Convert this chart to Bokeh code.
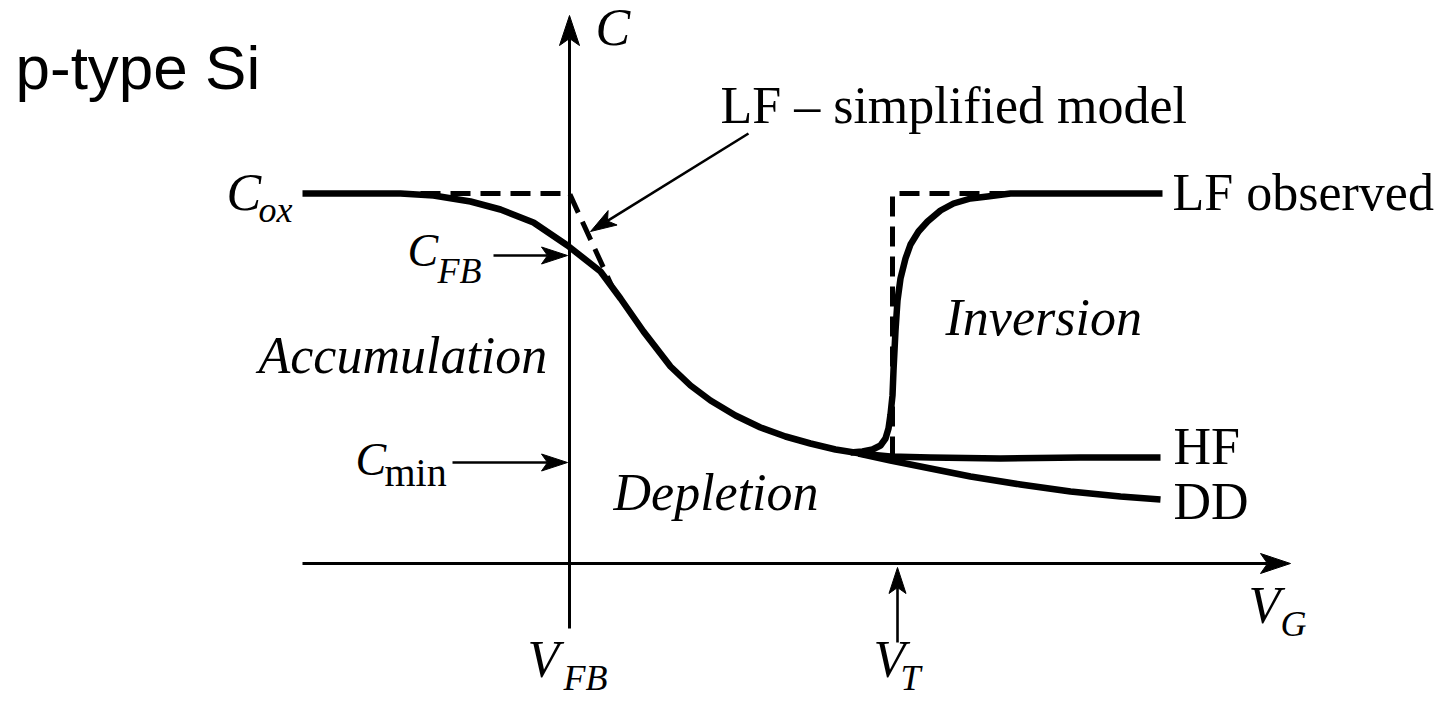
import math
from bokeh.plotting import figure
from bokeh.models import Range1d
from bokeh.core.properties import value
from bokeh.embed import file_html
from bokeh.resources import INLINE

W, H = 1441, 701

# ---- curves (gate voltage position, capacitance position; canvas units, y grows downward) ----
vg_depl = [302, 400, 433, 470, 500, 533, 567, 600, 620, 643, 670, 690, 710, 735, 760, 785, 810, 835, 860]
c_depl = [193, 193, 195, 201, 209, 222, 245, 271, 298, 331, 366, 385, 400, 415, 427, 436, 443, 449, 453]

vg_lf = [850, 862, 872, 880, 885, 888, 890, 892, 893, 895, 897, 900, 905, 910, 918, 927, 940,
         953, 970, 987, 1010, 1162]
c_lf = [452, 451, 449, 445, 438, 428, 414, 395, 370, 330, 300, 278, 258, 244, 231, 221, 210,
        203, 198, 196, 193, 193]

vg_hf = [858, 890, 930, 1000, 1080, 1160]
c_hf = [453, 456, 457, 458, 457, 457]

vg_dd = [858, 890, 930, 970, 1020, 1070, 1120, 1160]
c_dd = [453, 460, 468, 476, 484, 491, 496, 499]

# simplified low-frequency model (dashed)
vg_simple_a = [420, 569, 612]
c_simple_a = [193, 193, 287]
vg_simple_b = [892, 892, 1010]
c_simple_b = [456, 193, 193]

# ---- axes and pointer arrows: (tail, tip) ----
axis_arrows = [((569, 628), (569, 15)), ((302, 563), (1290, 563))]
pointer_arrows = [((748, 133), (590, 231)),   # LF - simplified model
                  ((493, 255), (567, 255)),   # C_FB
                  ((452, 462), (567, 462)),   # C_min
                  ((897, 642), (897, 567))]   # V_T

# ---- labels (x, alphabetic baseline) ----
serif_labels = ["LF \u2013 simplified model", "LF observed", "HF", "DD"]
serif_x = [720, 1172, 1173, 1173]
serif_y = [125, 212, 466, 521]

italic_labels = ["C", "C", "Inversion", "Accumulation", "Depletion", "V", "V", "V"]
italic_x = [595, 226, 945, 258, 613, 527, 873, 1248]
italic_y = [47, 212, 337, 375, 512, 679, 679, 625]

small_c_labels = ["C", "C"]
small_c_x = [407, 355]
small_c_y = [268, 477]

sub_labels = ["ox", "FB", "FB", "T", "G"]
sub_x = [258, 437, 563, 900, 1280]
sub_y = [224, 285, 692, 692, 638]

sub_upright = ["min"]
sub_upright_x = [384]
sub_upright_y = [488]

title_text = "p-type Si"

p = figure(width=W, height=H, x_range=Range1d(0, W), y_range=Range1d(H, 0),
           x_axis_type=None, y_axis_type=None, toolbar_location=None,
           output_backend="svg", min_border=0)
p.outline_line_color = None
p.background_fill_color = "white"
p.border_fill_color = "white"

BLACK = "#000000"


def arrow(tail, tip, width, head_len, head_half, notch):
    (x0, y0), (x1, y1) = tail, tip
    d = math.hypot(x1 - x0, y1 - y0)
    ux, uy = (x1 - x0) / d, (y1 - y0) / d
    nx, ny = -uy, ux
    bx, by = x1 - (head_len - notch) * ux, y1 - (head_len - notch) * uy
    p.line([x0, bx], [y0, by], line_color=BLACK, line_width=width)
    hx = [x1,
          x1 - head_len * ux + head_half * nx,
          bx,
          x1 - head_len * ux - head_half * nx]
    hy = [y1,
          y1 - head_len * uy + head_half * ny,
          by,
          y1 - head_len * uy - head_half * ny]
    p.patch(hx, hy, fill_color=BLACK, line_color=BLACK, line_width=1)


for t, h in axis_arrows:
    arrow(t, h, 3, 30, 10, 7)
for t, h in pointer_arrows:
    arrow(t, h, 2.6, 26, 8.5, 6)

# dashed simplified model under the solid curves
for xs, ys in ((vg_simple_a, c_simple_a), (vg_simple_b, c_simple_b)):
    p.line(xs, ys, line_color=BLACK, line_width=5, line_dash="20 10")

for xs, ys in ((vg_depl, c_depl), (vg_lf, c_lf), (vg_hf, c_hf), (vg_dd, c_dd)):
    p.line(xs, ys, line_color=BLACK, line_width=6.5, line_join="round")

SERIF = value("Liberation Serif")


def label(xs, ys, texts, size, font=SERIF, style="normal", k=0.39):
    # the svg text anchor sits a little below the alphabetic baseline; lift it
    p.text(xs, [y - k * size for y in ys], text=texts, text_font=font,
           text_font_size=f"{size}px", text_font_style=style, text_color=BLACK,
           text_baseline="alphabetic", text_align="left")


label(serif_x, serif_y, serif_labels, 52)
label(italic_x, italic_y, italic_labels, 52, style="italic")
label(small_c_x, small_c_y, small_c_labels, 46, style="italic")
label(sub_x, sub_y, sub_labels, 36, style="italic")
label(sub_upright_x, sub_upright_y, sub_upright, 40)
label([15], [92], [title_text], 62, font=value("Liberation Sans"), k=0.41)

open("out.html", "w").write(file_html(p, INLINE))
